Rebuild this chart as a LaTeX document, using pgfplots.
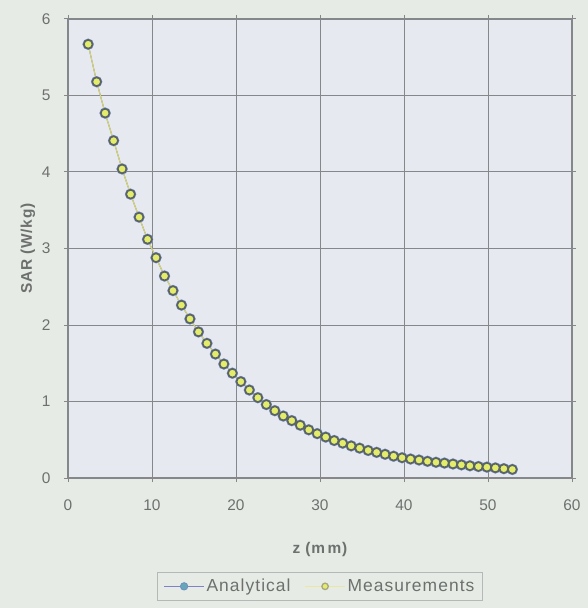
\documentclass[border=0pt]{standalone}
\usepackage{pgfplots}
\pgfplotsset{compat=1.18}
\usepackage{pgfplotstable}
\usepackage{fontspec}
\setmainfont{Liberation Sans}
\newfontfamily\legfont[LetterSpace=6]{Liberation Sans}
\newfontfamily\labfont[LetterSpace=5]{Liberation Sans}
\definecolor{bgc}{HTML}{E6EBE6}
\definecolor{plotbg}{HTML}{E6E9EF}
\definecolor{gridc}{HTML}{85878A}
\definecolor{txtc}{HTML}{6E706E}
\definecolor{analine}{HTML}{7E82C8}
\definecolor{anamark}{HTML}{62A8B8}
\definecolor{halo}{HTML}{8496D8}
\definecolor{measline}{HTML}{D8D868}
\definecolor{measfill}{HTML}{E4EC6C}
\definecolor{measedge}{HTML}{5A6462}
\pgfplotstableread{
z y
2.40 5.67
3.41 5.18
4.42 4.77
5.43 4.41
6.44 4.04
7.45 3.71
8.46 3.41
9.47 3.12
10.48 2.88
11.49 2.64
12.50 2.45
13.51 2.26
14.52 2.08
15.53 1.91
16.54 1.76
17.55 1.62
18.56 1.49
19.57 1.37
20.58 1.26
21.59 1.15
22.60 1.05
23.61 0.96
24.62 0.88
25.63 0.81
26.64 0.75
27.65 0.69
28.66 0.63
29.67 0.58
30.68 0.535
31.69 0.49
32.70 0.455
33.71 0.42
34.72 0.39
35.73 0.36
36.74 0.335
37.75 0.31
38.76 0.285
39.77 0.265
40.78 0.248
41.79 0.235
42.80 0.218
43.81 0.205
44.82 0.195
45.83 0.183
46.84 0.172
47.85 0.160
48.86 0.150
49.87 0.142
50.88 0.132
51.89 0.122
52.90 0.112
}\meas
\begin{document}
\begin{tikzpicture}
\fill[bgc] (-68bp,-130bp) rectangle (520bp,478bp);
\useasboundingbox (-68bp,-130bp) rectangle (520bp,478bp);
\begin{axis}[
  scale only axis,
  width=504bp, height=459bp,
  xmin=0, xmax=60, ymin=0, ymax=6,
  xtick={0,10,...,60}, ytick={0,1,...,6},
  grid=major,
  grid style={gridc, line width=1pt},
  axis line style={gridc, line width=1.1pt},
  tick align=outside,
  major tick length=4bp,
  tick style={gridc, line width=1pt},
  axis background/.style={fill=plotbg},
  /pgf/number format/assume math mode=true,
  ticklabel style={font=\fontsize{15.5}{17}\selectfont, text=txtc},
  xticklabel style={yshift=-14bp},
  yticklabel style={xshift=-10bp},
  xlabel={z (m\,m)},
  ylabel={SAR (W/kg)},
  label style={font=\labfont\bfseries\fontsize{15.5}{17}\selectfont, text=txtc},
  xlabel style={yshift=-25bp},
  ylabel style={yshift=0bp},
  legend columns=2,
  legend style={at={(0.5,-0.205)}, anchor=north, draw=gridc!60, fill=bgc,
    font=\legfont\fontsize{17.5}{20}\selectfont, text=txtc,
    /tikz/every even column/.append style={column sep=12bp},
    inner ysep=5bp, inner xsep=6bp},
  legend cell align=left,
]
\addplot[analine, line width=1pt, mark=*, mark size=5.6pt,
  mark options={fill=halo, draw=halo, line width=0.2pt},
  legend image code/.code={
    \draw[analine, line width=1pt] (0bp,0bp) -- (40bp,0bp);
    \fill[anamark] (20bp,0bp) circle (3.6bp);
    \draw[analine, line width=0.5pt] (20bp,0bp) circle (3.6bp);
  }] table[x=z,y=y] {\meas};
\addlegendentry{Analytical}
\addplot[measline, line width=1pt, mark=*, mark size=4.4pt,
  mark options={fill=measfill, draw=measedge, line width=1.7pt},
  legend image code/.code={
    \draw[measline!60, line width=1pt] (0bp,0bp) -- (40bp,0bp);
    \fill[measfill] (20bp,0bp) circle (3.2bp);
    \draw[measline!50!black!60, line width=1.3pt] (20bp,0bp) circle (3.2bp);
  }] table[x=z,y=y] {\meas};
\addlegendentry{Measurements}
\end{axis}
\end{tikzpicture}
\end{document}
